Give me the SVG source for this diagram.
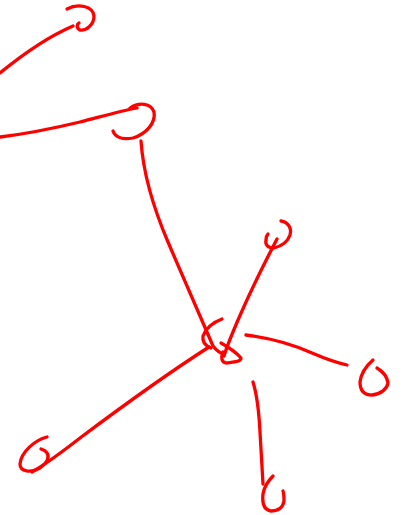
<svg xmlns="http://www.w3.org/2000/svg" width="403" height="515" viewBox="0 0 403 515">
<style>
path{fill:none;stroke:#ff0000;stroke-width:3.3;stroke-linecap:round;stroke-linejoin:round}
</style>
<rect width="403" height="515" fill="#ffffff"/>
<g id="node-top">
<path d="M67,9 C78,3 93,6 94,16 C94,25 86,31 80,30 C76,28 77,24 79,23"/>
</g>
<g id="node-upper">
<path d="M130,108 C139,102 151,103 154,112 C156,123 146,134 133,138 C122,140 115,137 113,131"/>
</g>
<g id="node-center">
<path d="M222,319 C214,322 206,328 203,336 C202,342 206,346 211,348"/>
<path d="M221,343 C228,347 236,352 241,358 C241,362 234,362 226,363 C221,362 221,357 223,352"/>
</g>
<g id="node-upper-right">
<path d="M281,221 C288,222 292,228 290,235 C288,241 282,246 274,248 C268,248 265,245 266,240 C266,237 267,235 268,234"/>
</g>
<g id="node-right">
<path d="M373,360 C366,366 361,374 360,382 C360,391 364,395 372,395 C381,394 387,389 388,383 C387,376 382,371 377,368"/>
</g>
<g id="node-bottom">
<path d="M273,476 C268,481 264,488 263,494 C262,503 264,510 271,511 C279,511 283,507 284,501 C284,497 284,494 283,491"/>
</g>
<g id="node-bottom-left">
<path d="M47,437 C35,440 21,452 20,464 C20,472 31,473 40,468 C47,463 50,457 47,453 C46,451 44,450 41,449"/>
</g>
<g id="connectors">
<path d="M0,73 C22,55 45,38 73,26"/>
<path d="M0,137 C25,134 55,128 80,122 C100,117 120,111 137,108"/>
<path d="M141,141 C143,170 150,200 168,242 C185,282 203,323 213,346 C216,350 220,353 224,354"/>
<path d="M277,239 C265,262 250,292 238,320 C232,334 227,346 224,356"/>
<path d="M246,335 C270,338 292,344 312,353 C326,359 338,363 347,365"/>
<path d="M253,382 C257,395 259,412 260,432 C261,452 262,468 263,484"/>
<path d="M209,347 C170,372 120,408 80,438 C62,452 46,464 32,472"/>
</g>
</svg>
